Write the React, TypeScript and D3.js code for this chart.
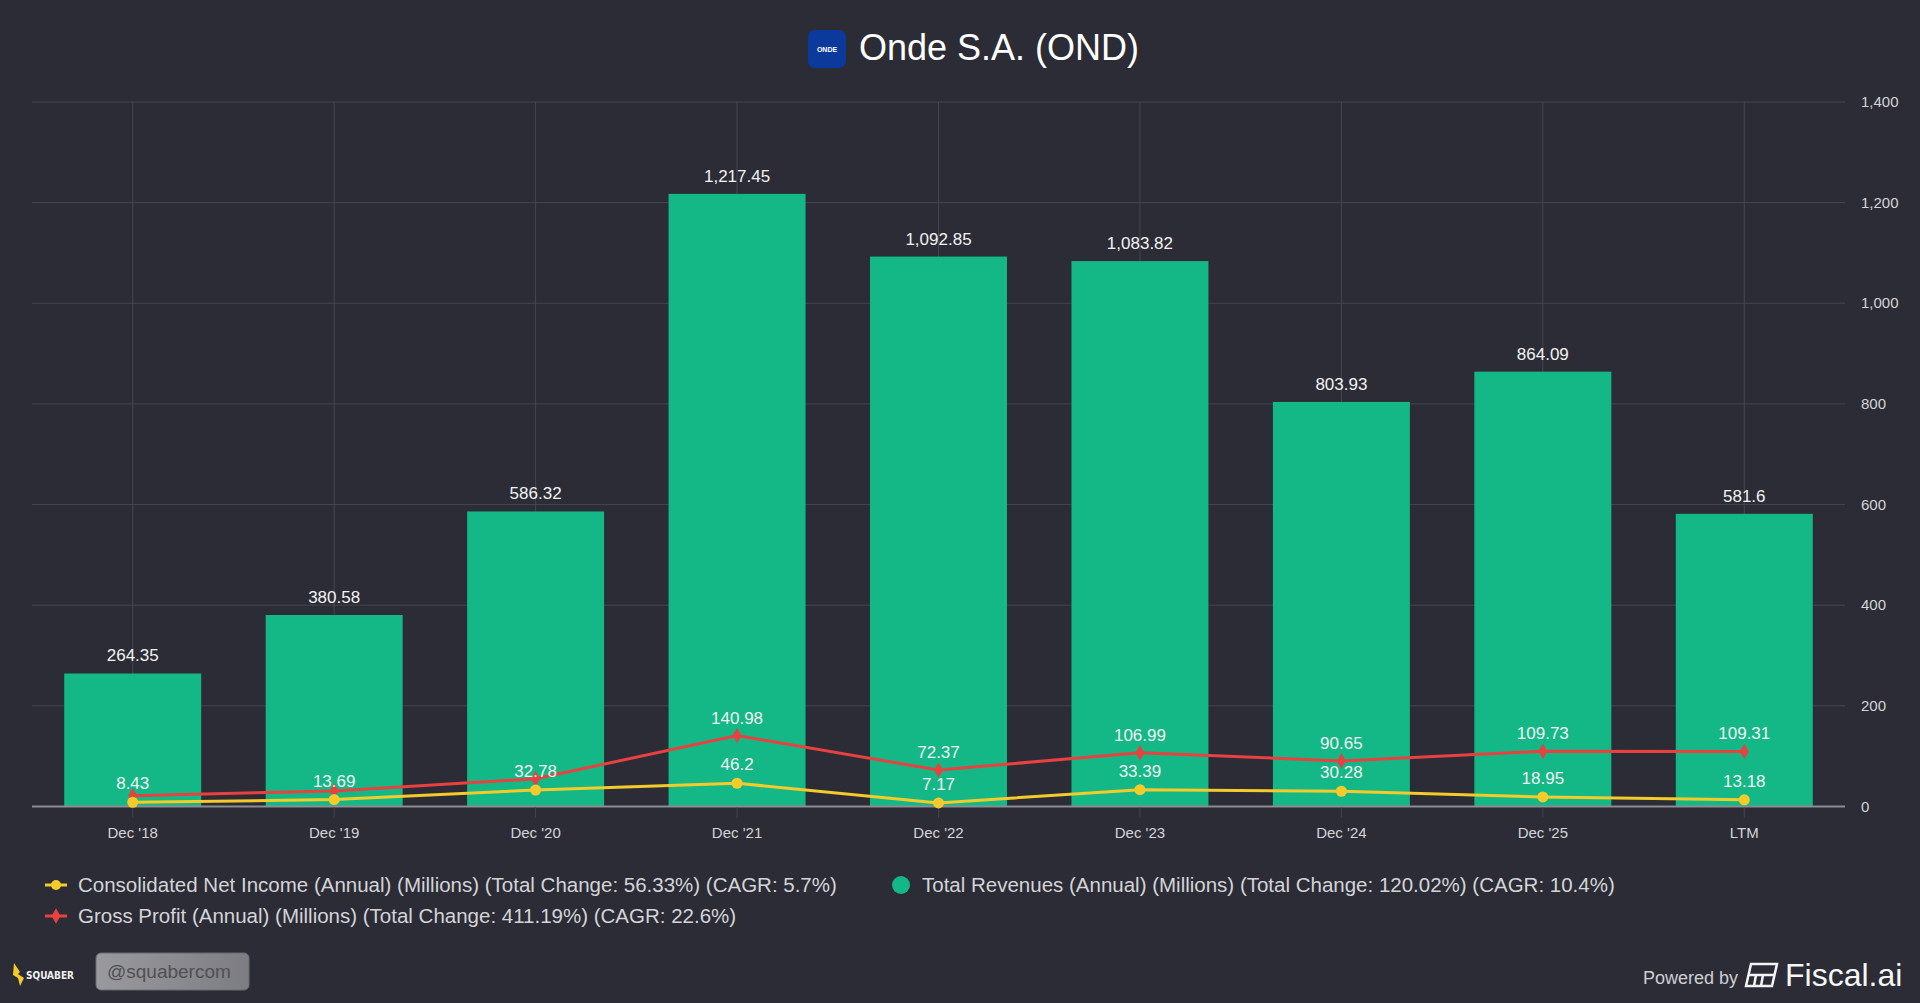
import { useRef, useEffect } from "react";
import * as d3 from "d3";

const PERIODS = ["Dec '18", "Dec '19", "Dec '20", "Dec '21", "Dec '22", "Dec '23", "Dec '24", "Dec '25", "LTM"];
const REVENUES = [264.35, 380.58, 586.32, 1217.45, 1092.85, 1083.82, 803.93, 864.09, 581.6];
const GROSS_PROFIT = [21.38, 31, 55, 140.98, 72.37, 106.99, 90.65, 109.73, 109.31];
const NET_INCOME = [8.43, 13.69, 32.78, 46.2, 7.17, 33.39, 30.28, 18.95, 13.18];
const Y_TICKS = [0, 200, 400, 600, 800, 1000, 1200, 1400];

const LEGEND_NI = "Consolidated Net Income (Annual) (Millions) (Total Change: 56.33%) (CAGR: 5.7%)";
const LEGEND_GP = "Gross Profit (Annual) (Millions) (Total Change: 411.19%) (CAGR: 22.6%)";
const LEGEND_REV = "Total Revenues (Annual) (Millions) (Total Change: 120.02%) (CAGR: 10.4%)";

const BG = "#2b2c35";
const GREEN = "#14b886";
const RED = "#e8413f";
const YELLOW = "#f4cb2a";
const GRID = "#45464f";
const TEXT = "#d4d4d8";
const FONT = "'Liberation Sans', Arial, Helvetica, sans-serif";

const W = 1920;
const H = 1003;

export default function App() {
  const svgRef = useRef<SVGSVGElement>(null);

  useEffect(() => {
    document.body.style.margin = "0";
    const svg = d3.select(svgRef.current);
    svg.selectAll("*").remove();

    svg.append("rect").attr("width", W).attr("height", H).attr("fill", BG);

    const plot = { left: 32, right: 1845, top: 102, bottom: 806.5 };

    const x = d3.scaleBand<string>().domain(PERIODS).range([plot.left, plot.right]).paddingInner(0.32).paddingOuter(0.16);
    const xc = (i: number) => (x(PERIODS[i]) as number) + x.bandwidth() / 2;
    const y = d3.scaleLinear().domain([0, 1400]).range([plot.bottom, plot.top]);
    const fmt = d3.format(",");

    // Title
    const title = svg.append("g");
    title.append("rect").attr("x", 808).attr("y", 30).attr("width", 38).attr("height", 38).attr("rx", 7).attr("fill", "#0b3a9c");
    title.append("text").attr("x", 827).attr("y", 52).attr("text-anchor", "middle")
      .attr("font-family", FONT).attr("font-size", 7).attr("font-weight", "bold").attr("fill", "#fff").text("ONDE");
    title.append("text").attr("x", 859).attr("y", 60).attr("font-family", FONT).attr("font-size", 36)
      .attr("fill", "#ffffff").text("Onde S.A. (OND)");

    // Grid lines
    Y_TICKS.forEach((t) => {
      svg.append("line").attr("x1", plot.left).attr("x2", plot.right).attr("y1", y(t)).attr("y2", y(t))
        .attr("stroke", GRID).attr("stroke-width", 1);
    });
    PERIODS.forEach((_, i) => {
      svg.append("line").attr("x1", xc(i)).attr("x2", xc(i)).attr("y1", plot.top).attr("y2", plot.bottom)
        .attr("stroke", GRID).attr("stroke-width", 1);
    });

    // Y axis labels (right side)
    Y_TICKS.forEach((t) => {
      svg.append("text").attr("x", 1861).attr("y", y(t) + 5).attr("font-family", FONT).attr("font-size", 15)
        .attr("fill", TEXT).text(fmt(t));
    });

    // Bars
    REVENUES.forEach((v, i) => {
      svg.append("rect").attr("x", x(PERIODS[i]) as number).attr("y", y(v))
        .attr("width", x.bandwidth()).attr("height", y(0) - y(v)).attr("fill", GREEN);
    });

    // X axis
    svg.append("line").attr("x1", plot.left).attr("x2", plot.right).attr("y1", plot.bottom).attr("y2", plot.bottom)
      .attr("stroke", "#8c8c92").attr("stroke-width", 2);
    PERIODS.forEach((p, i) => {
      svg.append("line").attr("x1", xc(i)).attr("x2", xc(i)).attr("y1", plot.bottom + 1).attr("y2", plot.bottom + 11)
        .attr("stroke", "#44454d").attr("stroke-width", 1);
      svg.append("text").attr("x", xc(i)).attr("y", 838).attr("text-anchor", "middle")
        .attr("font-family", FONT).attr("font-size", 15).attr("fill", TEXT).text(p);
    });

    // Lines
    const line = d3.line<number>().x((_, i) => xc(i)).y((d) => y(d));
    svg.append("path").datum(GROSS_PROFIT).attr("d", line).attr("fill", "none").attr("stroke", RED).attr("stroke-width", 3);
    svg.append("path").datum(NET_INCOME).attr("d", line).attr("fill", "none").attr("stroke", YELLOW).attr("stroke-width", 3);

    const diamond = d3.symbol().type(d3.symbolDiamond).size(70);
    GROSS_PROFIT.forEach((v, i) => {
      svg.append("path").attr("d", diamond).attr("transform", `translate(${xc(i)},${y(v)})`).attr("fill", RED);
    });
    NET_INCOME.forEach((v, i) => {
      svg.append("circle").attr("cx", xc(i)).attr("cy", y(v)).attr("r", 5.5).attr("fill", YELLOW);
    });

    // Data labels
    const label = (cx: number, cy: number, txt: string) =>
      svg.append("text").attr("x", cx).attr("y", cy).attr("text-anchor", "middle")
        .attr("font-family", FONT).attr("font-size", 17).attr("fill", "#f2f2f2").text(txt);

    REVENUES.forEach((v, i) => label(xc(i), y(v) - 12, fmt(v)));
    NET_INCOME.forEach((v, i) => label(xc(i), y(v) - 13, fmt(v)));
    GROSS_PROFIT.forEach((v, i) => {
      // labels that would collide with the net income label are hidden
      if (Math.abs(y(v) - y(NET_INCOME[i])) < 20) return;
      label(xc(i), y(v) - 12, fmt(v));
    });

    // Legend
    const lg = svg.append("g").attr("font-family", FONT).attr("font-size", 20.5).attr("fill", TEXT);
    lg.append("line").attr("x1", 45).attr("x2", 67).attr("y1", 885).attr("y2", 885).attr("stroke", YELLOW).attr("stroke-width", 3);
    lg.append("circle").attr("cx", 56).attr("cy", 885).attr("r", 5).attr("fill", YELLOW);
    lg.append("text").attr("x", 78).attr("y", 892).text(LEGEND_NI);
    lg.append("line").attr("x1", 45).attr("x2", 67).attr("y1", 916).attr("y2", 916).attr("stroke", RED).attr("stroke-width", 3);
    lg.append("path").attr("d", diamond).attr("transform", "translate(56,916)").attr("fill", RED);
    lg.append("text").attr("x", 78).attr("y", 923).text(LEGEND_GP);
    lg.append("circle").attr("cx", 901).attr("cy", 885).attr("r", 9).attr("fill", GREEN);
    lg.append("text").attr("x", 922).attr("y", 892).text(LEGEND_REV);

    // Footer: squaber
    svg.append("path").attr("d", "M14,963 L20,972 L18,974 L24,978 L20,986 L18,978 L13,975 Z").attr("fill", YELLOW);
    svg.append("text").attr("x", 26).attr("y", 979).attr("font-family", "'DejaVu Sans Condensed', sans-serif")
      .attr("font-size", 10).attr("font-weight", "bold").attr("fill", "#f0f0f0").text("SQUABER");
    const grad = svg.append("defs").append("linearGradient").attr("id", "sqg").attr("x1", 0).attr("x2", 1);
    grad.append("stop").attr("offset", 0).attr("stop-color", "#9a9a9e");
    grad.append("stop").attr("offset", 1).attr("stop-color", "#7c7c82");
    svg.append("rect").attr("x", 96).attr("y", 953).attr("width", 153).attr("height", 37).attr("rx", 5)
      .attr("fill", "url(#sqg)").attr("stroke", "#6a6a70");
    svg.append("text").attr("x", 107).attr("y", 978).attr("font-family", FONT).attr("font-size", 19)
      .attr("fill", "#505055").text("@squabercom");

    // Footer: powered by
    svg.append("text").attr("x", 1643).attr("y", 984).attr("font-family", FONT).attr("font-size", 18)
      .attr("fill", "#cfcfd3").text("Powered by");
    const ic = svg.append("g").attr("fill", "none").attr("stroke", "#f4f4f4").attr("stroke-width", 2.5);
    ic.append("path").attr("d", "M1751,964 L1777,964 L1772,986 L1746,986 Z");
    ic.append("path").attr("d", "M1749,975 L1774,975 M1756,975 L1754,986 M1763,975 L1761,986");
    svg.append("text").attr("x", 1785).attr("y", 986).attr("font-family", FONT).attr("font-size", 32)
      .attr("fill", "#f6f6f6").text("Fiscal.ai");
  }, []);

  return <svg ref={svgRef} width={W} height={H} style={{ display: "block" }} />;
}
